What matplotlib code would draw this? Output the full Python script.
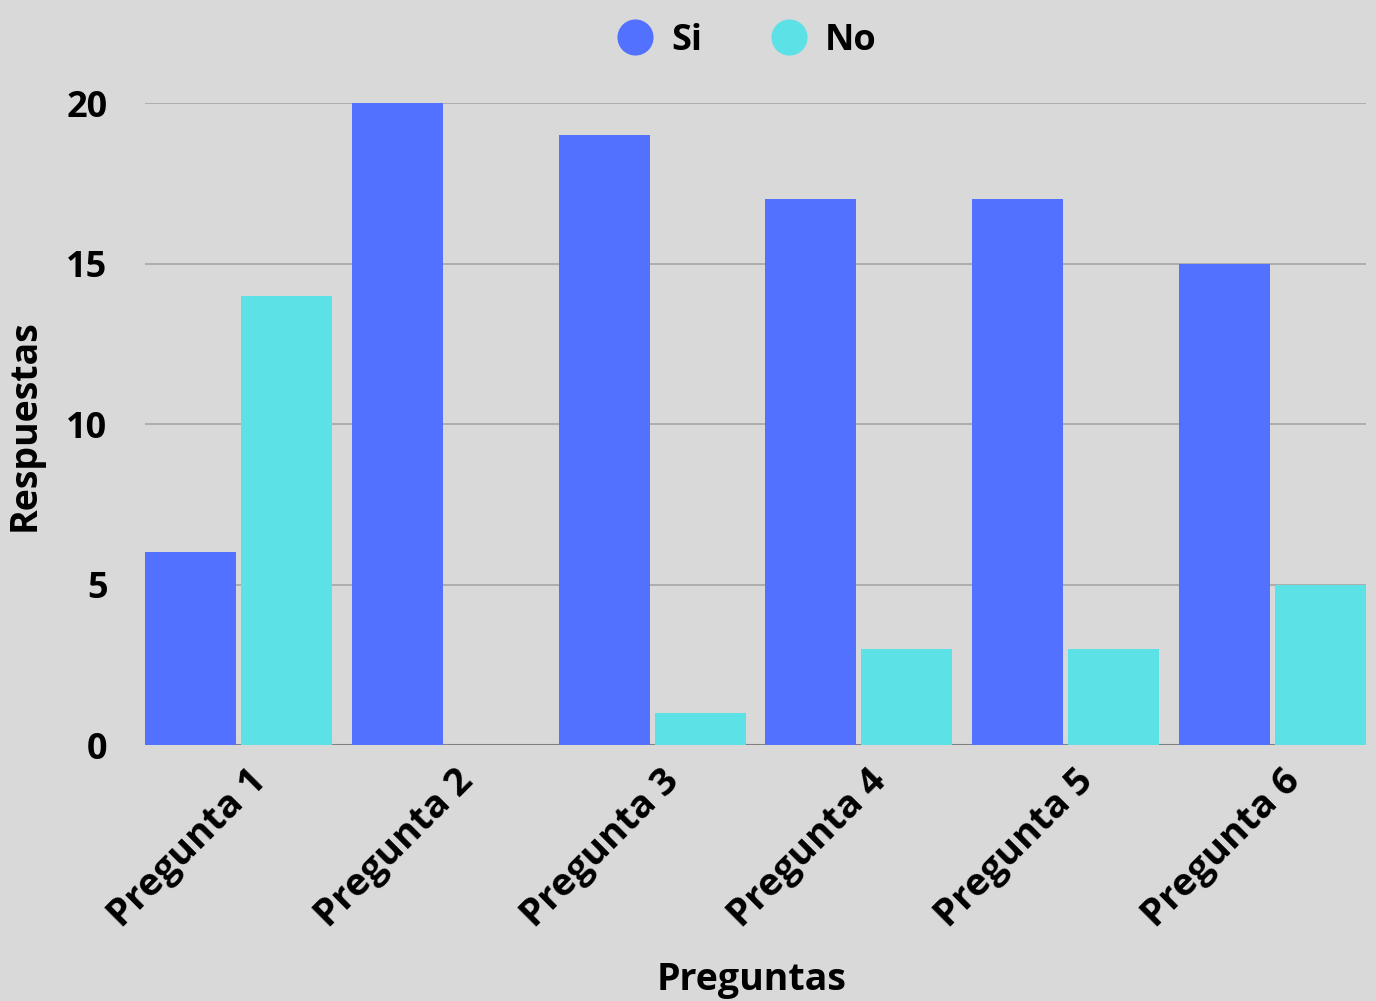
import matplotlib.pyplot as plt
from matplotlib.lines import Line2D
from matplotlib.transforms import ScaledTranslation
import numpy as np

preguntas = ['Pregunta 1', 'Pregunta 2', 'Pregunta 3', 'Pregunta 4', 'Pregunta 5', 'Pregunta 6']
si = [6, 20, 19, 17, 17, 15]
no = [14, 0, 1, 3, 3, 5]

c_si = '#5271ff'
c_no = '#5ce1e6'
bg = '#d9d9d9'

plt.rcParams['font.family'] = ['Open Sans', 'DejaVu Sans']
plt.rcParams['font.weight'] = 'bold'

fig = plt.figure(figsize=(13.76, 10.01), dpi=100, facecolor=bg)
ax = fig.add_axes([0.1054, 0.2557, 0.8873, 0.6413])
ax.set_facecolor(bg)

x = np.arange(len(preguntas))
w = 0.44
off = 0.232
ax.bar(x - off, si, width=w, color=c_si, zorder=3, clip_on=False)
ax.bar(x + off, no, width=w, color=c_no, zorder=3, clip_on=False)

ax.set_xlim(-off - w / 2, len(preguntas) - 1 + off + w / 2)
ax.set_ylim(0, 20)
ax.set_yticks([0, 5, 10, 15, 20])
ax.yaxis.grid(True, color='#a6a6a6', linewidth=1.2, zorder=0)
ax.axhline(0, color='#808080', linewidth=1.5, zorder=2)
for s in ax.spines.values():
    s.set_visible(False)
ax.tick_params(axis='y', length=0, labelsize=26, pad=27)
ax.tick_params(axis='x', length=0, labelsize=27.5, pad=22)
ax.set_xticks(x)
ax.set_xticklabels(preguntas, rotation=45, ha='right', va='center', rotation_mode='anchor')
shift = ScaledTranslation(22 / 100, 0, fig.dpi_scale_trans)
for lbl in ax.get_xticklabels():
    lbl.set_transform(lbl.get_transform() + shift)

fig.text(752 / 1376, 1 - 980 / 1001, 'Preguntas', fontsize=27, fontweight='bold',
         ha='center', va='center')
fig.text(25 / 1376, 1 - 425 / 1001, 'Respuestas', fontsize=27, fontweight='bold',
         ha='center', va='center', rotation=90)

handles = [Line2D([], [], marker='o', linestyle='', markersize=25, color=c_si, label='Si'),
           Line2D([], [], marker='o', linestyle='', markersize=25, color=c_no, label='No')]
fig.legend(handles=handles, loc='center', bbox_to_anchor=(0.536, 0.959), ncol=2,
           frameon=False, fontsize=26, handletextpad=0.0, columnspacing=1.4)

fig.savefig('out.png', dpi=100, facecolor=bg)
